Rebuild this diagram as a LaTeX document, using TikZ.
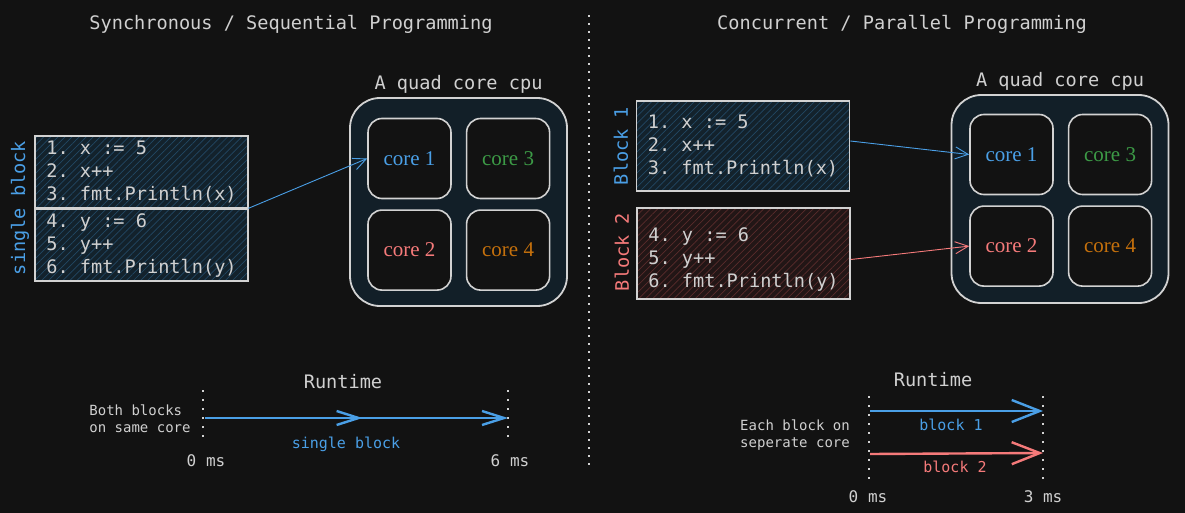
\documentclass[tikz,border=0pt]{standalone}
\usepackage{fontspec}
\setmainfont{Liberation Serif}
\setmonofont{DejaVu Sans Mono}
\usetikzlibrary{arrows.meta, positioning, patterns.meta, decorations.markings}

\definecolor{bg}{RGB}{18,18,18}
\definecolor{linegray}{RGB}{210,210,210}
\definecolor{txtgray}{RGB}{208,208,208}
\definecolor{cpufill}{RGB}{18,31,40}
\definecolor{codeblue}{RGB}{74,159,230}
\definecolor{codered}{RGB}{245,122,122}
\definecolor{coregreen}{RGB}{60,154,70}
\definecolor{coreorange}{RGB}{196,112,12}
\definecolor{bluefill}{RGB}{19,34,44}
\definecolor{bluehatch}{RGB}{34,72,100}
\definecolor{redfill}{RGB}{34,22,22}
\definecolor{redhatch}{RGB}{90,44,44}

\begin{document}
\begin{tikzpicture}[
        x=1pt, y=-1pt,
        node distance=10pt and 14pt, % gap between the cores
        title/.style={font=\ttfamily\fontsize{18.6}{22}\selectfont, text=txtgray},
        small/.style={font=\ttfamily\fontsize{14}{17}\selectfont, text=txtgray, align=left},
        tag/.style={font=\ttfamily\fontsize{15}{18}\selectfont},
        msec/.style={font=\ttfamily\fontsize{16}{19}\selectfont, text=txtgray},
        codetext/.style={align=left, font=\ttfamily\fontsize{18.6}{23}\selectfont, text=txtgray},
        code/.style={codetext, draw=linegray, line width=1.6pt, minimum width=213pt},
        bluecode/.style={code, preaction={fill=bluefill},
          pattern={Lines[angle=45, distance=5pt, line width=0.7pt]}, pattern color=bluehatch},
        redcode/.style={code, preaction={fill=redfill},
          pattern={Lines[angle=45, distance=5pt, line width=0.7pt]}, pattern color=redhatch},
        cpu/.style={draw=linegray, line width=1.8pt, rounded corners=30pt, fill=cpufill,
          minimum width=217pt, minimum height=208pt},
        core/.style={draw=linegray, line width=1.6pt, rounded corners=14pt, fill=bg,
          minimum width=83pt, minimum height=80pt, font=\fontsize{21}{24}\selectfont},
        side/.style={rotate=90, font=\ttfamily\fontsize{18.6}{22}\selectfont},
        link/.style={line width=0.9pt, -{Straight Barb[length=13pt, width=12pt]}},
        runline/.style={line width=2.4pt, -{Straight Barb[length=28pt, width=22pt]}},
        tick/.style={draw=linegray, line width=2pt, dash pattern=on 2pt off 7pt}
      ]
      \useasboundingbox[fill=bg] (0,0) rectangle (1185,513);

      % Divider
      \draw[tick, dash pattern=on 2pt off 6pt] (589,15) -- (589,470);

      % Titles
      \node (titleL) [title] at (291,24) {Synchronous / Sequential Programming};
      \node (titleR) [title] at (902,24) {Concurrent / Parallel Programming};

      % Left: one block of code
      \node (codeTop) [bluecode, minimum height=72pt] at (141.5,172) {1. x := 5\\2. x++\\3. fmt.Println(x)};
      \node (codeBot) [bluecode, minimum height=72pt, below=0pt of codeTop] {4. y := 6\\5. y++\\6. fmt.Println(y)};
      \node (singleTag) [side, text=codeblue] at (20,208) {single block};

      % Left: cpu
      \node (cpuL) [cpu] at (458.5,202) {};
      \node (cpuLabelL) [title, above=0pt of cpuL] {A quad core cpu};
      \node (oneL) [core, text=codeblue] at (409.5,158.5) {core 1};
      \node (threeL) [core, text=coregreen, right=of oneL] {core 3};
      \node (twoL) [core, text=codered, below=of oneL] {core 2};
      \node (fourL) [core, text=coreorange, below=of threeL] {core 4};

      % Right: two blocks of code
      \node (blockOne) [bluecode, minimum height=90pt] at (743,146) {1. x := 5\\2. x++\\3. fmt.Println(x)};
      \node (blockTwo) [redcode, minimum height=91pt,
        label={[codetext, yshift=-6.5pt]center:4. y := 6\\5. y++\\6. fmt.Println(y)}] at (743.5,253.5) {};
      \node (oneTag) [side, text=codeblue] at (621,146) {Block 1};
      \node (twoTag) [side, text=codered] at (622,252) {Block 2};

      % Right: cpu
      \node (cpuR) [cpu] at (1060,199) {};
      \node (cpuLabelR) [title, above=0pt of cpuR] {A quad core cpu};
      \node (oneR) [core, text=codeblue] at (1011.5,154.5) {core 1};
      \node (threeR) [core, text=coregreen, right=of oneR] {core 3};
      \node (twoR) [core, text=codered, below=of oneR] {core 2};
      \node (fourR) [core, text=coreorange, below=of threeR] {core 4};

      % Arrows
      \draw[link, codeblue] (codeTop.south east) -- (oneL.west);
      \draw[link, codeblue] ([yshift=5pt]blockOne.east) -- (oneR.west);
      \draw[link, codered] ([yshift=-6pt]blockTwo.east) -- (twoR.west);

      % Runtime, left
      \node (runL) [title] at (343,382) {Runtime};
      \draw[tick] (203,390) -- (203,437);
      \draw[tick] (508,390) -- (508,437);
      \coordinate (startL) at (205,418);
      \coordinate (endL) at (508,418);
      \draw[line width=2.4pt, codeblue, -{Straight Barb[length=22pt, width=14pt]},
        postaction={decorate}, decoration={markings,
          mark=at position 0.52 with {\arrow{Straight Barb[length=22pt, width=14pt]}}}] (startL) -- (endL);
      \node (singleL) [tag, text=codeblue] at (346,444) {single block};
      \node (noteL) [small] at (140,419) {Both blocks\\on same core};
      \node (zeroL) [msec] at (206,461) {0 ms};
      \node (sixL) [msec] at (510,461) {6 ms};

      % Runtime, right
      \node (runR) [title] at (933,380) {Runtime};
      \draw[tick] (869,396) -- (869,482);
      \draw[tick] (1043,396) -- (1043,482);
      \coordinate (startA) at (870,411);
      \coordinate (endA) at (1043,411);
      \coordinate (startB) at (870,454);
      \coordinate (endB) at (1043,453);
      \draw[runline, codeblue] (startA) -- (endA);
      \draw[runline, codered] (startB) -- (endB);
      \node (blockA) [tag, text=codeblue] at (951,425) {block 1};
      \node (blockB) [tag, text=codered] at (955,467) {block 2};
      \node (noteR) [small] at (795,435) {Each block on\\seperate core};
      \node (zeroR) [msec] at (868,497) {0 ms};
      \node (threeMs) [msec] at (1043,497) {3 ms};

    \end{tikzpicture}
\end{document}
